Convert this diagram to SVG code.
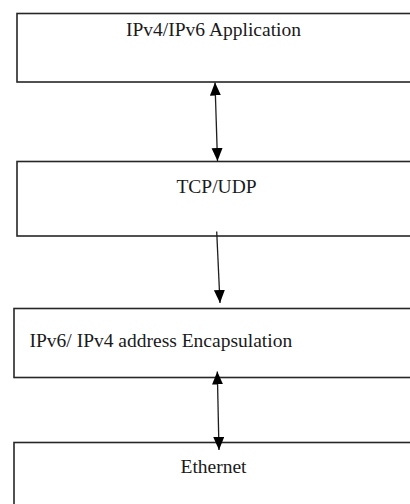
<svg xmlns="http://www.w3.org/2000/svg" width="410" height="504" viewBox="0 0 410 504">
  <style>
    .box { fill: #ffffff; stroke: #262626; stroke-width: 1.6; }
    .label { font-family: "Liberation Serif", "Times New Roman", serif; font-size: 19.5px; fill: #1a1a1a; }
    .link { stroke: #1e1e1e; stroke-width: 1.3; fill: none; }
  </style>
  <defs>
    <marker id="head" markerUnits="userSpaceOnUse" markerWidth="14" markerHeight="12" refX="13" refY="5.5" orient="auto-start-reverse">
      <path d="M0,0 L13,5.5 L0,11 Z" fill="#000000"/>
    </marker>
  </defs>
  <rect width="410" height="504" fill="#ffffff"/>

  <g id="app">
    <rect class="box" x="17" y="13.5" width="420" height="68.5"/>
    <text class="label" x="213.5" y="35.5" text-anchor="middle">IPv4/IPv6 Application</text>
  </g>

  <g id="transport">
    <rect class="box" x="17" y="161.5" width="420" height="74.5"/>
    <text class="label" x="216.5" y="193" text-anchor="middle">TCP/UDP</text>
  </g>

  <g id="encapsulation">
    <rect class="box" x="14" y="308.5" width="420" height="69"/>
    <text class="label" x="29.5" y="347">IPv6/ IPv4 address Encapsulation</text>
  </g>

  <g id="ethernet">
    <rect class="box" x="14" y="442.5" width="420" height="100"/>
    <text class="label" x="213.5" y="473" text-anchor="middle">Ethernet</text>
  </g>

  <g id="connectors">
    <line class="link" x1="215" y1="82.5" x2="217.5" y2="161" marker-start="url(#head)" marker-end="url(#head)"/>
    <line class="link" x1="216.7" y1="231.5" x2="220" y2="303" marker-end="url(#head)"/>
    <line class="link" x1="217.3" y1="371.5" x2="219" y2="450" marker-start="url(#head)" marker-end="url(#head)"/>
  </g>
</svg>
